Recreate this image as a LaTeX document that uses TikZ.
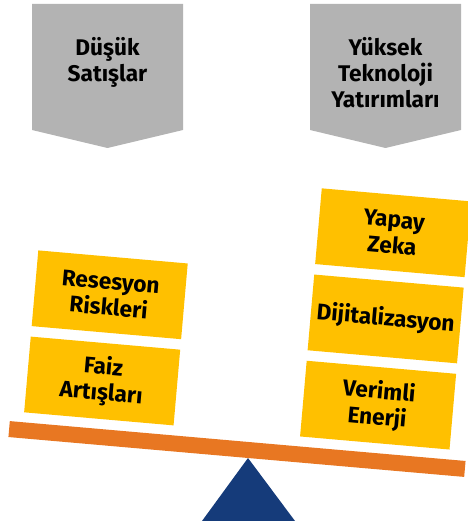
\documentclass[tikz,border=0pt]{standalone}
\usepackage{fontspec}
\setmainfont{Fira Sans}
\usetikzlibrary{positioning}
\definecolor{pressgray}{HTML}{B3B3B3}
\definecolor{weightyellow}{HTML}{FFC000}
\definecolor{beamorange}{HTML}{E87722}
\definecolor{pivotblue}{HTML}{153B7A}

\begin{document}
\begin{tikzpicture}[x=0.75pt,y=0.75pt,
  weight/.style={fill=weightyellow,minimum width=112.5pt,minimum height=57pt,inner sep=0pt,align=center,font=\bfseries\fontsize{17}{19.5}\selectfont},
  presstext/.style={align=center,inner sep=0pt,anchor=north,font=\bfseries\fontsize{17}{19.5}\selectfont}]
\useasboundingbox (0,0) rectangle (468,529);
% pressures from above
\fill[pressgray] (32,525) -- (183,525) -- (183,399) -- (107.5,381) -- (32,399) -- cycle;
\fill[pressgray] (310,525) -- (461,525) -- (461,399) -- (385.5,381) -- (310,399) -- cycle;
\node[presstext] (lowsales) at (107.5,492) {Düşük\\Satışlar};
\node[presstext] (hightech) at (385.5,492) {Yüksek\\Teknoloji\\Yatırımları};
% pivot
\coordinate (apex) at (248,71);
\fill[pivotblue] (apex) -- (295,8) -- (202,8) -- cycle;
% tilted beam with weights
\begin{scope}[shift={(apex)},rotate=-5,transform shape]
\coordinate (beamL) at (-240.5,8);
\coordinate (beamR) at (217,8);
\draw[beamorange,line width=12pt] (beamL) -- (beamR);
\node[weight] (faiz) at (-152,64) {Faiz\\Artışları};
\node[weight,above=7.5pt of faiz] (resesyon) {Resesyon\\Riskleri};
\node[weight] (verimli) at (125,64) {Verimli\\Enerji};
\node[weight,above=7.5pt of verimli] (dijital) {Dijitalizasyon};
\node[weight,above=7.5pt of dijital] (yapay) {Yapay\\Zeka};
\end{scope}
\end{tikzpicture}
\end{document}
